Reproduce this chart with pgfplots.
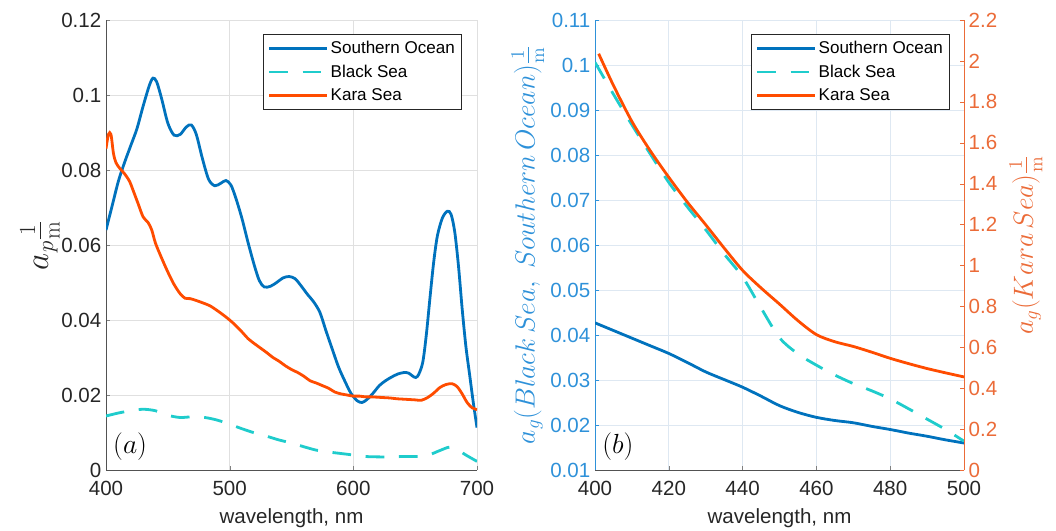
\documentclass[border=0pt]{standalone}
\usepackage{pgfplots}
\pgfplotsset{compat=1.18}
\usepackage[no-math]{fontspec}
\setmainfont{Liberation Sans}

\definecolor{so}{rgb}{0,0.447,0.741}
\definecolor{bs}{rgb}{0.12,0.80,0.80}
\definecolor{ks}{rgb}{1,0.30,0}
\definecolor{axdark}{rgb}{0.15,0.15,0.15}
\definecolor{lblue}{rgb}{0.18,0.57,0.85}
\definecolor{lorange}{rgb}{0.92,0.42,0.22}
\definecolor{bgrid}{RGB}{222,232,242}

\pgfplotsset{
  mystyle/.style={
    scale only axis, anchor=south west,
    width=278.25pt, height=337.5pt,
    tick align=inside, major tick length=3pt,
    /pgf/number format/assume math mode=true,
    scaled ticks=false,
    tick label style={font=\fontsize{15.4}{16}\selectfont, text=axdark},
    yticklabel style={/pgf/number format/fixed, /pgf/number format/precision=2},
    xticklabel style={yshift=-5pt},
    label style={font=\fontsize{15.4}{16}\selectfont, text=axdark},
    xlabel style={at={(axis description cs:0.5,-0.106)}, anchor=center},
    legend cell align=left,
    legend image code/.code={\draw[#1] (0pt,0pt) -- (43pt,0pt);},
    legend style={font=\fontsize{12.8}{14}\selectfont, draw=axdark, line width=0.6pt,
      row sep=3pt, inner sep=3pt, anchor=north east},
  },
}

\begin{document}
\begin{tikzpicture}
\useasboundingbox (0,0) rectangle (792pt,-398.25pt);

% panel (a)
\begin{axis}[mystyle,
  at={(79.5pt,-352.5pt)},
  axis x line*=bottom, axis y line*=left,
  axis line style={axdark!80, line width=0.5pt},
  xmin=400, xmax=700, ymin=0, ymax=0.12,
  xtick={400,500,600,700}, ytick={0,0.02,...,0.12},
  grid=major, grid style={black!12, line width=0.5pt},
  xlabel={wavelength, nm},
  ylabel={\fontsize{25}{27}\selectfont$a_p\frac{1}{\mathrm{m}}$},
  ylabel style={at={(axis description cs:-0.178,0.5)}, anchor=center},
  legend style={at={(axis description cs:0.9596,0.969)}},
]
\addplot[so, line width=2.1pt, smooth] coordinates {
(400,0.064) (405,0.0705) (410,0.077) (415,0.082) (420,0.0865) (425,0.091) (430,0.097) (435,0.1025) (438,0.1045) (441,0.1035) (445,0.099) (450,0.0925) (455,0.0893) (460,0.0895) (465,0.0915) (469,0.092) (473,0.0895) (478,0.083) (483,0.0775) (488,0.0758) (493,0.0765) (497,0.0772) (501,0.076) (505,0.0725) (510,0.067) (515,0.0605) (520,0.0545) (524,0.0505) (528,0.0488) (533,0.049) (538,0.050) (543,0.0512) (548,0.0516) (553,0.051) (558,0.049) (563,0.0468) (568,0.0448) (573,0.042) (578,0.037) (583,0.0322) (588,0.0275) (593,0.0238) (598,0.0205) (603,0.0185) (607,0.018) (611,0.0188) (616,0.0205) (621,0.0225) (626,0.0238) (631,0.0248) (636,0.0256) (641,0.026) (645,0.0258) (649,0.0248) (652,0.025) (656,0.0285) (659,0.036) (662,0.046) (665,0.0555) (668,0.0625) (672,0.0672) (676,0.069) (679,0.0682) (682,0.0635) (685,0.0545) (688,0.043) (691,0.033) (694,0.0255) (697,0.018) (700,0.0113)};
\addlegendentry{Southern Ocean}
\addplot[bs, line width=2.1pt, smooth, dash pattern=on 14pt off 11pt] coordinates {
(400,0.0144) (410,0.0152) (420,0.0158) (430,0.0162) (440,0.0158) (450,0.0146) (460,0.014) (470,0.0142) (480,0.014) (490,0.0133) (500,0.0122) (510,0.011) (520,0.0099) (530,0.009) (540,0.008) (550,0.0072) (560,0.0062) (570,0.0053) (580,0.0048) (590,0.0044) (600,0.004) (610,0.0036) (620,0.0035) (630,0.0035) (640,0.0036) (650,0.0036) (660,0.0039) (670,0.0052) (678,0.0061) (685,0.0052) (692,0.0038) (700,0.0023)};
\addlegendentry{Black Sea}
\addplot[ks, line width=2.1pt, smooth] coordinates {
(400,0.0857) (402,0.0895) (404,0.0895) (406,0.0845) (408,0.082) (411,0.0805) (415,0.079) (419,0.077) (422,0.0745) (426,0.071) (430,0.0675) (434,0.066) (437,0.064) (440,0.0605) (445,0.0565) (450,0.0528) (455,0.0495) (460,0.047) (464,0.0458) (468,0.0457) (473,0.0452) (478,0.0446) (484,0.0438) (490,0.0425) (495,0.0413) (500,0.040) (505,0.0385) (510,0.0368) (515,0.035) (520,0.0337) (525,0.0325) (530,0.0313) (535,0.030) (540,0.029) (545,0.0278) (550,0.0268) (555,0.026) (560,0.025) (565,0.0238) (570,0.0232) (575,0.0225) (580,0.0218) (585,0.0208) (590,0.0203) (595,0.02) (600,0.0197) (605,0.0197) (610,0.0195) (615,0.0195) (620,0.0194) (625,0.0193) (630,0.0192) (635,0.019) (640,0.0189) (645,0.0188) (650,0.0187) (655,0.0186) (660,0.0193) (665,0.0205) (670,0.022) (675,0.0228) (680,0.023) (684,0.0222) (688,0.0203) (692,0.018) (696,0.0166) (700,0.0161)};
\addlegendentry{Kara Sea}
\node[font=\fontsize{21}{22}\selectfont] at (axis description cs:0.065,0.053) {$(a)$};
\end{axis}

% panel (b), left axis
\begin{axis}[mystyle,
  at={(446.25pt,-352.5pt)},
  width=276.75pt,
  axis x line*=bottom, axis y line*=left,
  x axis line style={axdark!80, line width=0.5pt},
  y axis line style={lblue, line width=0.6pt},
  xmin=400, xmax=500, ymin=0.01, ymax=0.11,
  xtick={400,420,...,500}, ytick={0.01,0.02,...,0.115},
  yticklabel style={text=lblue},
  ytick style={lblue},
  grid=major, grid style={bgrid, line width=0.5pt},
  xlabel={wavelength, nm},
  ylabel={\fontsize{20}{22}\selectfont\color{lblue}$a_g(Black\,Sea,\;Southern\,Ocean)\frac{1}{\mathrm{m}}$},
  ylabel style={at={(axis description cs:-0.182,0.5)}, anchor=center},
]
\addplot[so, line width=2.1pt, smooth] coordinates {
(400,0.0427) (405,0.041) (410,0.0393) (415,0.0376) (420,0.0359) (425,0.0339) (430,0.0318) (435,0.0301) (440,0.0284) (445,0.0264) (450,0.0243) (455,0.0228) (460,0.0217) (465,0.021) (470,0.0205) (475,0.0197) (480,0.019) (485,0.0182) (490,0.0175) (495,0.0167) (500,0.016)};
\addplot[bs, line width=2.1pt, smooth, dash pattern=on 14pt off 11pt] coordinates {
(400,0.1006) (405,0.0935) (410,0.0867) (415,0.0802) (420,0.0739) (425,0.0685) (430,0.0634) (435,0.058) (440,0.0529) (445,0.046) (450,0.0394) (455,0.0358) (460,0.0333) (465,0.0311) (470,0.0292) (475,0.0276) (480,0.0258) (485,0.0236) (490,0.0213) (495,0.019) (500,0.0164)};
\node[font=\fontsize{21}{22}\selectfont] at (axis description cs:0.062,0.053) {$(b)$};
\end{axis}

% panel (b), right axis
\begin{axis}[mystyle,
  at={(446.25pt,-352.5pt)},
  width=276.75pt,
  axis x line=none, axis y line*=right,
  y axis line style={lorange, line width=0.6pt},
  xmin=400, xmax=500, ymin=0, ymax=2.2,
  ytick={0,0.2,...,2.25},
  yticklabel style={text=lorange, /pgf/number format/precision=1},
  ytick style={lorange},
  ylabel={\fontsize{20}{22}\selectfont\color{lorange}$a_g(Kara\,Sea)\frac{1}{\mathrm{m}}$},
  ylabel style={at={(axis description cs:1.168,0.5)}, anchor=center},
  legend style={at={(axis description cs:0.962,0.969)}},
]
\addlegendimage{so, line width=2.1pt}
\addlegendentry{Southern Ocean}
\addlegendimage{bs, line width=2.1pt, dash pattern=on 14pt off 11pt}
\addlegendentry{Black Sea}
\addplot[ks, line width=2.1pt, smooth] coordinates {
(401,2.035) (405,1.88) (410,1.704) (415,1.56) (420,1.431) (425,1.31) (430,1.199) (435,1.085) (440,0.976) (445,0.89) (450,0.811) (455,0.73) (460,0.662) (465,0.627) (470,0.604) (475,0.576) (480,0.546) (485,0.52) (490,0.496) (495,0.475) (500,0.455)};
\addlegendentry{Kara Sea}
\end{axis}
\end{tikzpicture}
\end{document}
